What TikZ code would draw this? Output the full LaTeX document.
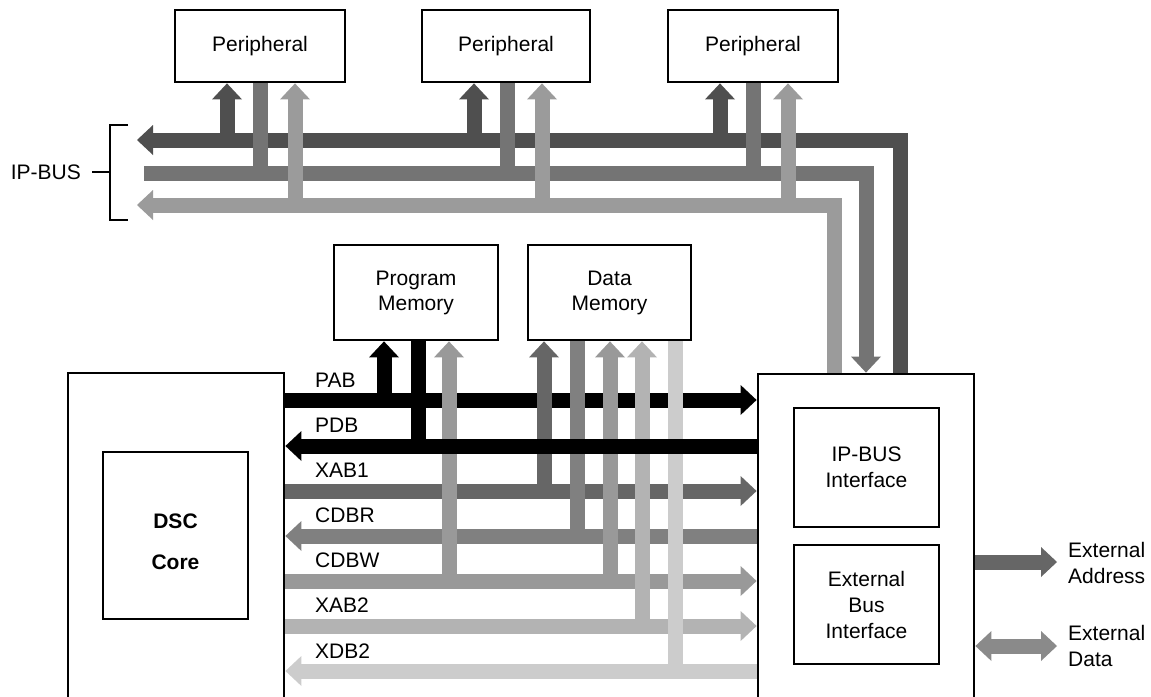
\documentclass[tikz,border=0pt]{standalone}
\usepackage{fontspec}
\setmainfont{Liberation Sans}
\usetikzlibrary{arrows.meta}
\definecolor{ipA}{HTML}{4F4F4F}
\definecolor{ipB}{HTML}{747474}
\definecolor{ipC}{HTML}{9B9B9B}
\definecolor{cXAB}{HTML}{666666}
\definecolor{cCDBR}{HTML}{808080}
\definecolor{cCDBW}{HTML}{999999}
\definecolor{cXABb}{HTML}{B3B3B3}
\definecolor{cXDB}{HTML}{CCCCCC}
\definecolor{cEA}{HTML}{666666}
\definecolor{cED}{HTML}{8A8A8A}
\begin{document}
\begin{tikzpicture}[x=1pt,y=-1pt,
  blk/.style={draw,line width=2.8pt,fill=white,inner sep=0pt,align=center,font=\fontsize{21}{25}\selectfont},
  inblk/.style={draw,line width=2.2pt,fill=white,inner sep=0pt,align=center,font=\fontsize{21}{26}\selectfont},
  bus/.style={line width=15pt,line join=miter,line cap=butt},
  arr/.style={-{Triangle[width=30pt,length=16pt,line width=0pt]}},
  darr/.style={{Triangle[width=30pt,length=16pt,line width=0pt]}-{Triangle[width=30pt,length=16pt,line width=0pt]}},
  lbl/.style={font=\fontsize{21}{26}\selectfont,inner sep=0pt},
  brk/.style={line width=1.8pt}]
\useasboundingbox (0,0) rectangle (1151,696);
\clip (0,0) rectangle (1151,696);

% ---- blocks
\node[blk,minimum width=216pt,minimum height=350pt] (dsc) at (176,548) {};
\node[blk,minimum width=216pt,minimum height=350pt] (ctl) at (866,549) {};
\node[inblk,minimum width=145pt,minimum height=167pt] (core) at (175.5,535.5) {};
\node[lbl,font=\fontsize{21}{25}\selectfont\bfseries,align=center] (coretxt) at (175.5,541.5) {DSC\\[16pt]Core};
\node[inblk,minimum width=145pt,minimum height=119pt] (ipif) at (866.5,467.5) {IP-BUS\\Interface};
\node[inblk,minimum width=145pt,minimum height=119pt] (ebif) at (866.5,604.5) {External\\Bus\\Interface};
\node[blk,minimum width=164pt,minimum height=95pt] (pm) at (416,292.5) {Program\\Memory};
\node[blk,minimum width=163pt,minimum height=95pt] (dm) at (609.5,292.5) {Data\\Memory};
\node[blk,minimum width=170pt,minimum height=72pt] (p1) at (260,46) {Peripheral};
\node[blk,minimum width=168pt,minimum height=72pt] (p2) at (506,46) {Peripheral};
\node[blk,minimum width=170pt,minimum height=72pt] (p3) at (753,46) {Peripheral};

% ---- IP-BUS
\coordinate (ipAend) at (137,140);
\coordinate (ipBend) at (144,173);
\coordinate (ipCend) at (137,205);
\draw[bus,ipA,arr] (ctl.north -| 900,0) -- (900,140) -- (ipAend);
\draw[bus,ipB,arr] (ipBend) -- (866,173) -- (ctl.north -| 866,0);
\draw[bus,ipC,arr] (ctl.north -| 834,0) -- (834,205) -- (ipCend);

\foreach \p/\x in {p1/175,p2/422,p3/668}{
  \draw[bus,ipA,arr] (\x+52,140) -- (\p.south -| \x+52,0);
  \draw[bus,ipB] (\p.south -| \x+85,0) -- (\x+85,173);
  \draw[bus,ipC,arr] (\x+120,205) -- (\p.south -| \x+120,0);
}

% bracket
\node[lbl,anchor=east] (ipl) at (81,172) {IP-BUS};
\draw[brk] (128,125) -- (110,125) -- (110,220) -- (128,220);
\draw[brk] (92,172) -- (110,172);

% ---- internal buses
\draw[bus,black,arr] (dsc.east |- 0,400) -- (ctl.west |- 0,400);
\draw[bus,cXAB,arr] (dsc.east |- 0,491) -- (ctl.west |- 0,491);
\draw[bus,cCDBR,arr] (ctl.west |- 0,536) -- (dsc.east |- 0,536);
\draw[bus,cCDBW,arr] (dsc.east |- 0,581) -- (ctl.west |- 0,581);
\draw[bus,cXABb,arr] (dsc.east |- 0,626) -- (ctl.west |- 0,626);
\draw[bus,cXDB,arr] (ctl.west |- 0,671) -- (dsc.east |- 0,671);

% verticals to memories
\draw[bus,black,arr] (384,400) -- (pm.south -| 384,0);
\draw[bus,cCDBW,arr] (449,581) -- (pm.south -| 449,0);
\draw[bus,cXAB,arr] (544,491) -- (dm.south -| 544,0);
\draw[bus,cCDBR] (dm.south -| 577,0) -- (577,536);
\draw[bus,cCDBW,arr] (610,581) -- (dm.south -| 610,0);
\draw[bus,cXABb,arr] (642,626) -- (dm.south -| 642,0);
\draw[bus,cXDB] (dm.south -| 675,0) -- (675,671);

% PDB on top
\draw[bus,black] (pm.south -| 418,0) -- (418,446);
\draw[bus,black,arr] (ctl.west |- 0,446) -- (dsc.east |- 0,446);

% bus labels
\node[lbl,anchor=west] (lPAB) at (315,380) {PAB};
\node[lbl,anchor=west] (lPDB) at (315,425) {PDB};
\node[lbl,anchor=west] (lXAB1) at (315,470) {XAB1};
\node[lbl,anchor=west] (lCDBR) at (315,515) {CDBR};
\node[lbl,anchor=west] (lCDBW) at (315,560) {CDBW};
\node[lbl,anchor=west] (lXAB2) at (315,605) {XAB2};
\node[lbl,anchor=west] (lXDB2) at (315,651) {XDB2};

% external
\coordinate (eaEnd) at (1057,562);
\coordinate (edEnd) at (1057,646);
\draw[bus,cEA,arr] (ctl.east |- eaEnd) -- (eaEnd);
\draw[bus,cED,darr] (ctl.east |- edEnd) -- (edEnd);
\node[lbl,anchor=west,align=left] (lEA) at (1068,563) {External\\Address};
\node[lbl,anchor=west,align=left] (lED) at (1068,646) {External\\Data};
\end{tikzpicture}
\end{document}
